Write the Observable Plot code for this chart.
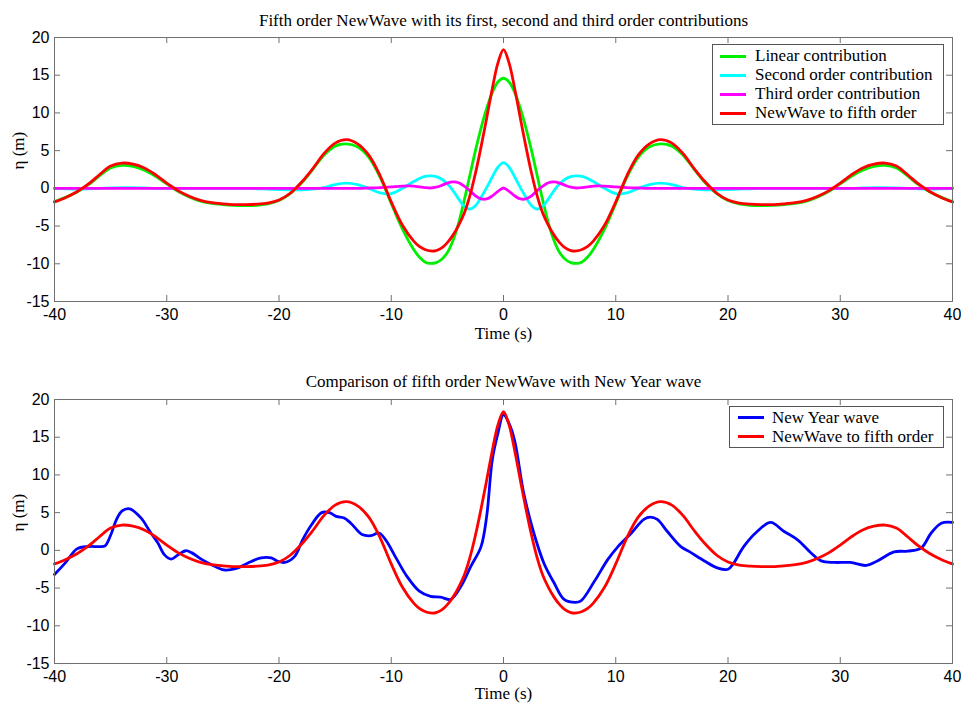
<!DOCTYPE html>
<html><head><meta charset="utf-8">
<script src="https://cdn.jsdelivr.net/npm/d3@7"></script>
<script src="https://cdn.jsdelivr.net/npm/@observablehq/plot@0.6"></script>
<style>
body{margin:0;background:#fff;}
.panel{position:relative;width:961px;height:352px;}
.panel svg{display:block;}
.legend{position:absolute;background:#fff;border:1px solid #555;box-sizing:border-box;font-family:"Liberation Serif","Times New Roman",serif;font-size:17px;color:#000;}
.row{position:absolute;left:0;height:19px;display:flex;align-items:center;white-space:nowrap;}
.sw{display:inline-block;width:26px;height:3px;}
</style></head><body>
<div id="p1" class="panel"></div>
<div id="p2" class="panel"></div>
<script>
// ---- data ----
const time = [-40,-39,-38,-37,-36,-35,-34,-33,-32,-31,-30,-29,-28,-27,-26,-25,-24,-23,-22,-21,-20,-19,-18,-17,-16,-15,-14,-13,-12,-11,-10,-9,
  -8,-7.5,-7,-6.5,-6,-5.5,-5,-4.5,-4,-3.5,-3,-2.5,-2,-1.5,-1,-0.5,
  0,
  0.5,1,1.5,2,2.5,3,3.5,4,4.5,5,5.5,6,6.5,7,7.5,8,
  9,10,11,12,13,14,15,16,17,18,19,20,21,22,23,24,25,26,27,28,29,30,31,32,33,34,35,36,37,38,39,40];

const linear = [-1.75,-1.2,-0.5,0.45,1.65,2.7,3.05,2.9,2.4,1.6,0.6,-0.4,-1.15,-1.7,-2.0,-2.15,-2.25,-2.3,-2.25,-2.05,-1.6,-0.7,0.7,2.5,4.4,5.6,5.9,5.5,4.1,1.5,-2.0,-5.4,
  -8.1,-9.1,-9.75,-9.95,-9.85,-9.4,-8.5,-6.9,-4.6,-1.6,1.7,5.0,8.0,10.6,12.7,14.1,
  14.6,
  14.1,12.7,10.6,8.0,5.0,1.7,-1.6,-4.6,-6.9,-8.5,-9.4,-9.85,-9.95,-9.75,-9.1,-8.1,
  -5.4,-2.0,1.5,4.1,5.5,5.9,5.6,4.4,2.5,0.7,-0.7,-1.6,-2.05,-2.25,-2.3,-2.25,-2.15,-2.0,-1.7,-1.15,-0.4,0.6,1.6,2.4,2.9,3.05,2.7,1.65,0.45,-0.5,-1.2,-1.75];

const second = [0,-0.05,-0.1,-0.05,0,0.05,0.1,0.1,0.05,0,0,0,0,0,0,0,0,0,-0.05,-0.1,-0.15,-0.2,-0.2,-0.1,0.1,0.5,0.7,0.5,0.0,-0.6,-0.7,0.0,
  0.9,1.3,1.6,1.65,1.55,1.2,0.6,-0.3,-1.4,-2.4,-2.75,-2.3,-1.2,0.1,1.5,2.8,
  3.4,
  2.8,1.5,0.1,-1.2,-2.3,-2.75,-2.4,-1.4,-0.3,0.6,1.2,1.55,1.65,1.6,1.3,0.9,
  0.0,-0.7,-0.6,0.0,0.5,0.7,0.5,0.1,-0.1,-0.2,-0.2,-0.15,-0.1,-0.05,0,0,0,0,0,0,0,0,0,0.05,0.1,0.1,0.05,0,-0.05,-0.1,-0.05,0];

const third = [0,0,0,0,0,0,0,0,0,0,0,0,0,0,0,0,0,0,0,0,0,0,0,0,0,0,0,0,0.05,0.1,0.2,0.3,
  0.3,0.2,0.1,0.05,0.15,0.4,0.7,0.85,0.75,0.3,-0.3,-1.0,-1.4,-1.4,-1.0,-0.4,
  0.05,
  -0.4,-1.0,-1.4,-1.4,-1.0,-0.3,0.3,0.75,0.85,0.7,0.4,0.15,0.05,0.1,0.2,0.3,
  0.3,0.2,0.1,0.05,0,0,0,0,0,0,0,0,0,0,0,0,0,0,0,0,0,0,0,0,0,0,0,0,0,0,0,0];

const fifth = [-1.8,-1.2,-0.45,0.55,1.8,2.95,3.35,3.2,2.7,1.8,0.7,-0.3,-1.05,-1.6,-1.9,-2.05,-2.15,-2.15,-2.1,-1.95,-1.55,-0.65,0.8,2.6,4.6,6.0,6.45,5.9,4.4,1.7,-1.8,-4.9,
  -7.0,-7.7,-8.1,-8.3,-8.25,-7.9,-7.2,-6.2,-4.9,-3.3,-1.0,2.0,5.5,9.3,13.2,16.6,
  18.4,
  16.6,13.2,9.3,5.5,2.0,-1.0,-3.3,-4.9,-6.2,-7.2,-7.9,-8.25,-8.3,-8.1,-7.7,-7.0,
  -4.9,-1.8,1.7,4.4,5.9,6.45,6.0,4.6,2.6,0.8,-0.65,-1.55,-1.95,-2.1,-2.15,-2.15,-2.05,-1.9,-1.6,-1.05,-0.3,0.7,1.8,2.7,3.2,3.35,2.95,1.8,0.55,-0.45,-1.2,-1.8];

const nyTime = [-40,-39,-38,-37,-36,-35.5,-35,-34.5,-34,-33.3,-32.3,-31.5,-30.8,-30.2,-29.6,-29,-28.3,-27.8,-26.9,-26,-24.9,-23.8,-22.8,-21.6,-20.7,-20.1,-19.5,-18.6,-17.9,-17.1,-16.2,-15.5,-14.9,-14.2,-13.6,-12.6,-11.8,-11.1,-10.5,-9.5,-8.6,-7.5,-6.5,-5.6,-4.7,-3.8,-2.9,-2.0,-1.5,-1.0,-0.5,0,0.5,1.0,1.8,2.7,3.6,4.5,5.4,6.4,6.9,8.1,9.3,10.2,11.4,12.5,13.1,13.7,14.6,15.8,16.7,17.9,19.1,20.0,20.5,21.4,22.6,23.8,25.0,26.2,27.4,28.3,29.5,30.9,32.3,33.3,34.8,36.0,37.2,38.1,39.0,40];
const nyEta = [-3.2,-1.6,0.2,0.5,0.5,0.6,2.0,4.0,5.2,5.5,4.3,2.5,1.0,-0.6,-1.15,-0.6,-0.05,-0.3,-1.2,-1.9,-2.6,-2.4,-1.7,-1.0,-1.0,-1.45,-1.6,-0.8,1.4,3.4,5.0,5.0,4.5,4.3,3.6,2.1,1.95,2.3,1.4,-1.2,-3.45,-5.4,-6.1,-6.2,-6.5,-4.8,-2.1,0.5,4.5,12.0,15.5,18.0,16.8,14.5,7.6,2.3,-1.7,-4.3,-6.5,-6.9,-6.7,-4.1,-1.2,0.5,2.3,4.1,4.4,4.1,2.5,0.5,-0.3,-1.4,-2.35,-2.5,-1.7,0.5,2.5,3.7,2.5,1.4,-0.35,-1.4,-1.6,-1.6,-2.0,-1.4,-0.2,-0.1,0.3,2.3,3.6,3.7];

const xTicks = [-40,-30,-20,-10,0,10,20,30,40];
const yTicks = [-15,-10,-5,0,5,10,15,20];

const titles = ["Fifth order NewWave with its first, second and third order contributions",
                "Comparison of fifth order NewWave with New Year wave"];
const xLabel = "Time (s)";
const yLabel = "η (m)";
const legend1 = [["Linear contribution","#00ee00"],["Second order contribution","#00ffff"],["Third order contribution","#ff00ff"],["NewWave to fifth order","#ff0000"]];
const legend2 = [["New Year wave","#0000ff"],["NewWave to fifth order","#ff0000"]];

[linear,second,third,fifth].forEach((a,i)=>{ if(a.length!==time.length) throw new Error("len mismatch "+i+": "+a.length+" vs "+time.length); });
if (nyTime.length!==nyEta.length) throw new Error("ny mismatch "+nyTime.length+" "+nyEta.length);

const rows = (ts, vs) => ts.map((t,i)=>({t, v: vs[i]}));

const W = 961, H = 352, ML = 54, MR = 9;
const frameColor = "#707070";
const serif = "'Liberation Serif', 'Times New Roman', serif";

function panel(el, {series, title, mt, mb, titleDy, xlabDy, legend, lg}) {
  const ih = H - mt - mb, iw = W - ML - MR;
  const marks = [
    Plot.tickX(xTicks, {x: d=>d, stroke: frameColor, insetTop: ih-6}),
    Plot.tickX(xTicks, {x: d=>d, stroke: frameColor, insetBottom: ih-6}),
    Plot.tickY(yTicks, {y: d=>d, stroke: frameColor, insetRight: iw-6}),
    Plot.tickY(yTicks, {y: d=>d, stroke: frameColor, insetLeft: iw-6}),
    ...series.map(([data,color]) => Plot.line(data, {x:"t", y:"v", stroke: color, strokeWidth: 2.8, curve: "catmull-rom"})),
    Plot.frame({stroke: frameColor}),
    Plot.axisX(xTicks, {tickSize: 0, tickPadding: 7, tickFormat: d=>String(d), fontSize: 16, label: null}),
    Plot.axisY(yTicks, {tickSize: 0, tickPadding: 5, tickFormat: d=>String(d), fontSize: 16, label: null}),
    Plot.text([title], {frameAnchor: "top", dy: titleDy, lineAnchor: "middle", fontFamily: serif, fontSize: 17, fill: "#000"}),
    Plot.text([xLabel], {frameAnchor: "bottom", dy: xlabDy, lineAnchor: "middle", fontFamily: serif, fontSize: 17, fill: "#000"}),
    Plot.text([yLabel], {frameAnchor: "left", dx: -36, rotate: -90, lineAnchor: "middle", fontFamily: serif, fontSize: 17, fill: "#000"})
  ];
  const svg = Plot.plot({
    width: W, height: H, marginLeft: ML, marginRight: MR, marginTop: mt, marginBottom: mb,
    x: {domain: [-40, 40]}, y: {domain: [-15, 20]},
    style: {fontFamily: "'Liberation Sans', Arial, sans-serif", fontSize: "16px", color: "#000", background: "#fff", overflow: "visible"},
    marks
  });
  el.appendChild(svg);
  const box = document.createElement("div");
  box.className = "legend";
  Object.assign(box.style, {left: lg.left+"px", top: lg.top+"px", width: lg.width+"px", height: lg.height+"px"});
  legend.forEach(([name,color],i)=>{
    const r = document.createElement("div");
    r.className = "row";
    r.style.top = (lg.firstRow + i*19) + "px";
    r.style.left = lg.swLeft + "px";
    const sw = document.createElement("span");
    sw.className = "sw"; sw.style.background = color;
    sw.style.marginRight = (lg.textLeft - lg.swLeft - 26) + "px";
    const tx = document.createElement("span");
    tx.textContent = name;
    r.appendChild(sw); r.appendChild(tx);
    box.appendChild(r);
  });
  el.appendChild(box);
}

panel(document.getElementById("p1"), {
  series: [[rows(time, linear), "#00ee00"], [rows(time, second), "#00ffff"], [rows(time, third), "#ff00ff"], [rows(time, fifth), "#ff0000"]],
  title: titles[0], mt: 37, mb: 51, titleDy: -17, xlabDy: 32, legend: legend1,
  lg: {left: 712, top: 44, width: 232, height: 81, firstRow: 1.5, swLeft: 7, textLeft: 42}
});
panel(document.getElementById("p2"), {
  series: [[rows(nyTime, nyEta), "#0000ff"], [rows(time, fifth), "#ff0000"]],
  title: titles[1], mt: 47, mb: 41, titleDy: -18, xlabDy: 30, legend: legend2,
  lg: {left: 729, top: 54, width: 215, height: 42, firstRow: 1, swLeft: 8, textLeft: 42}
});
</script>
</body></html>
